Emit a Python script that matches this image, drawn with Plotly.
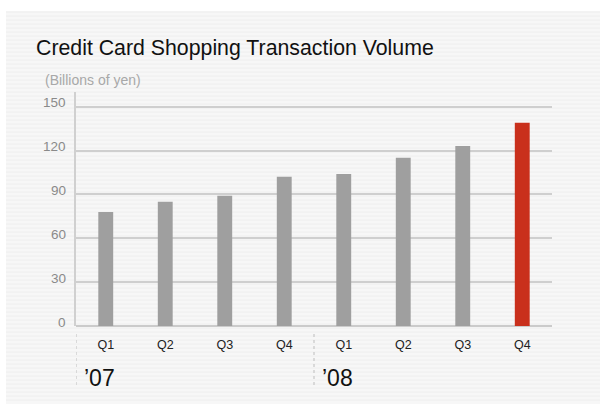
import plotly.graph_objects as go

# Quarterly credit card shopping transaction volume (billions of yen)
quarters = ["Q1", "Q2", "Q3", "Q4", "Q1", "Q2", "Q3", "Q4"]
volumes = [78, 85, 89, 102, 104, 115, 123, 139]
years = ["\u201907", "\u201908"]
year_start_index = [0, 4]
bar_colors = ["#9f9f9f"] * 7 + ["#c9301c"]
y_ticks = [0, 30, 60, 90, 120, 150]

FONT = "Liberation Sans, Arial, sans-serif"
W, H = 600, 406
ML, MR, MT, MB = 76, 48, 92, 80
PW, PH = W - ML - MR, H - MT - MB


def px_x(px):
    return (px - ML) / PW


def px_y(py):
    return 1 - (py - MT) / PH


x_pos = list(range(len(quarters)))

fig = go.Figure()
fig.add_trace(go.Bar(
    x=x_pos,
    y=volumes,
    width=0.25,
    marker=dict(color=bar_colors, line=dict(width=0)),
    hoverinfo="skip",
))

shapes = []
# pinstriped panel behind the chart
shapes.append(dict(type="rect", xref="paper", yref="paper", layer="below",
                   x0=px_x(6), x1=px_x(600), y0=px_y(404), y1=px_y(11),
                   fillcolor="#f7f7f7", line=dict(width=0)))
py = 12
while py < 404:
    shapes.append(dict(type="line", xref="paper", yref="paper", layer="below",
                       x0=px_x(6), x1=px_x(600), y0=px_y(py), y1=px_y(py),
                       line=dict(color="#eeeeee", width=1)))
    py += 4

# dotted separators between years
for idx in year_start_index:
    shapes.append(dict(type="line", xref="x", yref="paper", layer="above",
                       x0=idx - 0.5, x1=idx - 0.5, y0=px_y(334), y1=px_y(385),
                       line=dict(color="#bdbdbd", width=1, dash="dot")))

annotations = [
    dict(text="Credit Card Shopping Transaction Volume", xref="paper", yref="paper",
         x=px_x(34), y=px_y(48), xanchor="left", yanchor="middle", showarrow=False,
         font=dict(family=FONT, size=21.3, color="#111111")),
    dict(text="(Billions of yen)", xref="paper", yref="paper",
         x=px_x(43), y=px_y(80), xanchor="left", yanchor="middle", showarrow=False,
         font=dict(family=FONT, size=14, color="#a8a8a8")),
]
# value labels on the left, sitting just above each gridline
for v in y_ticks:
    annotations.append(dict(text=str(v), xref="paper", yref="y",
                            x=px_x(68), y=v, yshift=4, xanchor="right",
                            yanchor="middle", showarrow=False,
                            font=dict(family=FONT, size=13.5, color="#8a8a8a")))
for label, idx in zip(years, year_start_index):
    annotations.append(dict(text=label, xref="x", yref="paper",
                            x=idx - 0.5, xshift=6, y=px_y(378), xanchor="left",
                            yanchor="middle", showarrow=False,
                            font=dict(family=FONT, size=23, color="#111111")))

fig.update_layout(
    width=W, height=H,
    margin=dict(l=ML, r=MR, t=MT, b=MB, pad=0),
    paper_bgcolor="#ffffff",
    plot_bgcolor="rgba(0,0,0,0)",
    showlegend=False,
    bargap=0.75,
    shapes=shapes,
    annotations=annotations,
    xaxis=dict(
        range=[-0.5, len(quarters) - 0.5],
        tickvals=x_pos, ticktext=quarters,
        showgrid=False, zeroline=False, showline=False, ticks="",
        tickfont=dict(family=FONT, size=12.5, color="#222222"),
        ticklabelstandoff=9,
        fixedrange=True,
    ),
    yaxis=dict(
        range=[0, 160],
        tickvals=y_ticks,
        showticklabels=False,
        showgrid=True, gridcolor="#cfcfcf", gridwidth=1.5,
        zeroline=True, zerolinecolor="#cbcbcb", zerolinewidth=1.5,
        showline=True, linecolor="#d0d0d0", linewidth=1.5,
        ticks="",
        fixedrange=True,
    ),
)

fig.write_html("out.html")
